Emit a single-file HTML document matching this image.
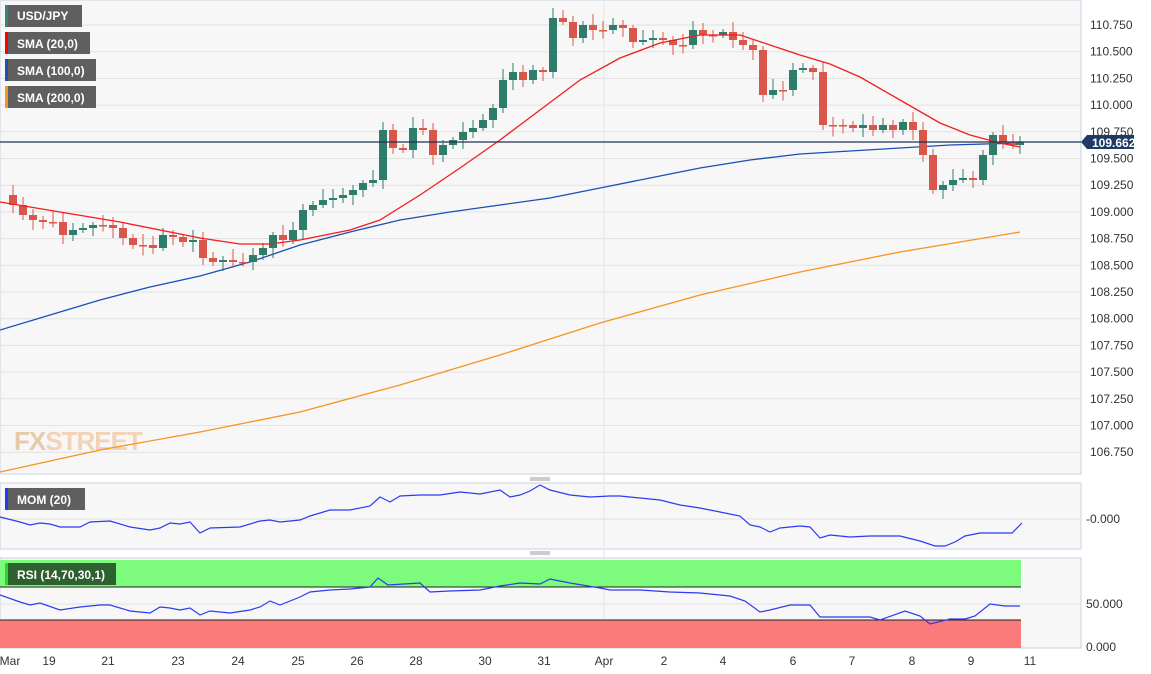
<!DOCTYPE html>
<html><head><meta charset="utf-8"><style>
body{margin:0;width:1151px;height:674px;background:#fff;overflow:hidden;font-family:"Liberation Sans",sans-serif}
svg{display:block}
.t{font-size:12px;fill:#333}
.lg{font-size:12px;fill:#fff;font-weight:bold}
</style></head><body>
<svg id="s" width="1151" height="674" xmlns="http://www.w3.org/2000/svg">
<rect x="0" y="0" width="1081" height="474" fill="#f7f7f7" stroke="#c9d0e0"/>
<rect x="0" y="483" width="1081" height="66" fill="#f7f7f7" stroke="#c9d0e0"/>
<rect x="0" y="558" width="1081" height="90" fill="#f7f7f7" stroke="#c9d0e0"/>
<g id="grid" stroke="#e2e2e2" stroke-width="1"></g>
<line x1="604" y1="0" x2="604" y2="648" stroke="#e6e6e6"/>
<g id="ylab"></g>
<text x="14" y="450" font-size="26" font-weight="bold" fill="#e8c9a8" font-family="Liberation Sans" letter-spacing="-1">FX<tspan fill="#f2d3b5">STREET</tspan></text>
<polyline fill="none" stroke="#f7931e" stroke-width="1.3" points="0,472 100,450 200,432 300,412 400,385 500,355 600,323 700,295 800,272 900,252 1020,232"/>
<polyline fill="none" stroke="#1b4fb5" stroke-width="1.3" points="0,330 50,315 100,300 150,287 200,276 250,262 300,245 350,232 400,220 450,212 500,205 550,198 600,188 650,178 700,168 750,160 800,154 850,151 900,148 950,145 1020,143"/>
<g id="c"></g>
<polyline fill="none" stroke="#f21d1d" stroke-width="1.3" points="0,202 60,212 120,222 200,238 240,244 270,244 300,240 350,230 380,220 420,195 460,168 500,140 540,110 580,80 620,58 660,43 700,35 740,35 770,45 800,55 830,64 860,77 900,100 940,123 970,135 1000,143 1020,147"/>
<line x1="0" y1="142" x2="1081" y2="142" stroke="#1f3352" stroke-width="1.2"/>
<path d="M1081,142 L1087,135 H1134 V149 H1087 Z" fill="#1f3a63"/>
<text x="1092" y="147" font-size="12" font-weight="bold" fill="#fff">109.662</text>
<g>
<rect x="5" y="5" width="77" height="22" fill="#5f5f5f"/><rect x="5" y="5" width="3" height="22" fill="#2e8b6f"/><text x="17" y="20" class="lg">USD/JPY</text>
<rect x="5" y="32" width="85" height="22" fill="#5f5f5f"/><rect x="5" y="32" width="3" height="22" fill="#ff0000"/><text x="17" y="48" class="lg">SMA (20,0)</text>
<rect x="5" y="59" width="91" height="22" fill="#5f5f5f"/><rect x="5" y="59" width="3" height="22" fill="#1b4fb5"/><text x="17" y="75" class="lg">SMA (100,0)</text>
<rect x="5" y="86" width="91" height="22" fill="#5f5f5f"/><rect x="5" y="86" width="3" height="22" fill="#f7931e"/><text x="17" y="102" class="lg">SMA (200,0)</text>
</g>
<line x1="0" y1="519" x2="1081" y2="519" stroke="#e2e2e2"/>
<rect x="5" y="488" width="80" height="22" fill="#5f5f5f"/><rect x="5" y="488" width="3" height="22" fill="#1a3cff"/><text x="17" y="504" class="lg">MOM (20)</text>
<polyline fill="none" stroke="#2a3cf0" stroke-width="1.2" points="0,517 20,522 30,525 40,523 50,524 60,527 80,527 90,522 110,521 130,527 150,530 160,528 170,523 180,524 190,522 200,533 210,528 240,527 260,521 270,520 280,522 300,520 310,516 330,510 350,510 370,506 380,497 390,502 400,496 420,495 440,495 460,492 480,494 500,490 510,497 520,495 530,491 540,485 550,490 570,495 590,497 610,496 620,496 640,498 660,500 680,505 700,508 720,512 740,516 750,525 760,527 770,532 780,528 800,526 810,527 820,538 830,535 850,537 870,536 900,536 920,541 935,546 945,546 955,542 965,536 980,533 1012,533 1022,523"/>
<text x="1086" y="523" class="t">-0.000</text>
<rect x="0" y="560" width="1021" height="27" fill="#7dfb7d"/><line x1="0" y1="587" x2="1021" y2="587" stroke="#222"/>
<rect x="0" y="620" width="1021" height="28" fill="#fb7a7a"/><line x1="0" y1="620" x2="1021" y2="620" stroke="#222"/>
<line x1="0" y1="604" x2="1081" y2="604" stroke="#e2e2e2"/>
<rect x="5" y="563" width="111" height="22" fill="#2e6030"/><rect x="5" y="563" width="3" height="22" fill="#22dd22"/><text x="17" y="579" class="lg">RSI (14,70,30,1)</text>
<polyline fill="none" stroke="#2a3cf0" stroke-width="1.2" points="0,595 20,602 30,605 40,603 60,610 80,607 100,605 110,605 130,611 150,613 160,607 170,608 180,610 190,608 200,615 210,611 230,613 250,610 260,607 270,601 280,605 300,597 310,592 330,590 350,589 370,587 378,578 388,585 420,583 430,592 450,591 480,590 500,586 520,583 540,584 550,579 570,583 600,588 610,590 640,590 670,592 700,593 730,596 745,601 760,612 770,610 790,605 810,605 820,617 850,617 870,617 880,620 905,611 920,616 930,624 950,619 965,619 975,616 990,604 1005,606 1020,606"/>
<text x="1086" y="608" class="t">50.000</text>
<text x="1086" y="651" class="t">0.000</text>
<g class="t" text-anchor="middle">
<text x="10" y="665">Mar</text><text x="49" y="665">19</text><text x="108" y="665">21</text><text x="178" y="665">23</text><text x="238" y="665">24</text><text x="298" y="665">25</text><text x="357" y="665">26</text><text x="416" y="665">28</text><text x="485" y="665">30</text><text x="544" y="665">31</text><text x="604" y="665">Apr</text><text x="664" y="665">2</text><text x="723" y="665">4</text><text x="793" y="665">6</text><text x="852" y="665">7</text><text x="912" y="665">8</text><text x="971" y="665">9</text><text x="1030" y="665">11</text>
</g>
<g stroke="#999"><line x1="530" y1="478" x2="550" y2="478"/><line x1="530" y1="480" x2="550" y2="480"/><line x1="530" y1="552" x2="550" y2="552"/><line x1="530" y1="554" x2="550" y2="554"/></g>
</svg>
<script>
(function(){
var NS="http://www.w3.org/2000/svg",g=document.getElementById('grid'),yl=document.getElementById('ylab');
var labs=["110.750","110.500","110.250","110.000","109.750","109.500","109.250","109.000","108.750","108.500","108.250","108.000","107.750","107.500","107.250","107.000","106.750"];
for(var i=0;i<labs.length;i++){var y=25+i*26.7;var l=document.createElementNS(NS,'line');l.setAttribute('x1',0);l.setAttribute('x2',1081);l.setAttribute('y1',y);l.setAttribute('y2',y);g.appendChild(l);
var t=document.createElementNS(NS,'text');t.setAttribute('x',1090);t.setAttribute('y',y+4);t.setAttribute('class','t');t.textContent=labs[i];yl.appendChild(t);}
var c=[195,205,215,220,222,222,235,230,228,225,225,228,238,245,245,248,235,237,242,240,258,262,260,262,262,255,248,235,240,230,210,205,200,198,195,190,183,180,130,148,150,128,130,155,145,140,132,128,120,108,80,72,80,70,72,18,22,38,25,30,30,25,28,42,40,38,40,45,45,30,35,35,32,40,45,50,95,90,90,70,68,72,125,125,125,128,125,130,125,130,122,130,155,190,185,180,178,180,155,135,142,145,142];
var cg=document.getElementById('c');
function mk(tag,a){var e=document.createElementNS(NS,tag);for(var k in a)e.setAttribute(k,a[k]);cg.appendChild(e);}
for(var i=1;i<c.length;i++){var x=3+i*10,o=c[i-1],cl=c[i];if(i==c.length-1)x=1020;var up=cl<o;var col=up?'#2e7d6a':'#d9574a';var tp=Math.min(o,cl),bt=Math.max(o,cl);if(bt-tp<1.5)bt=tp+1.5;
var hi=tp-3-(i*7%9),lo=bt+3+(i*5%8);
mk('line',{x1:x,x2:x,y1:hi,y2:lo,stroke:col});
mk('rect',{x:x-4,y:tp,width:8,height:bt-tp,fill:col});}
})();
</script>
</body></html>
